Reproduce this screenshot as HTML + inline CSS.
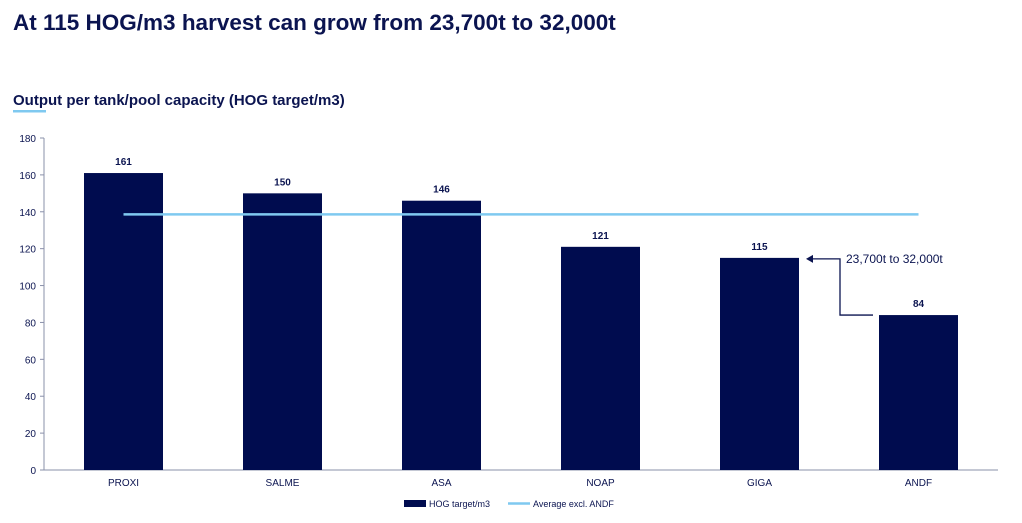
<!DOCTYPE html>
<html><head><meta charset="utf-8"><style>
body{margin:0;background:#fff;font-family:"Liberation Sans",Arial,sans-serif;}
svg text{font-family:"Liberation Sans",Arial,sans-serif;}
</style></head><body>
<svg id="c" width="1022" height="518" xmlns="http://www.w3.org/2000/svg">
<text x="13" y="30" font-size="22.5" font-weight="bold" fill="#0b1450">At 115 HOG/m3 harvest can grow from 23,700t to 32,000t</text>
<text x="13" y="105" font-size="15" font-weight="bold" fill="#0b1450">Output per tank/pool capacity (HOG target/m3)</text>
<rect x="13" y="110" width="33" height="2.5" fill="#7fc9f0"/>
<g id="plot"></g>
</svg>
<script>
const categories=["PROXI","SALME","ASA","NOAP","GIGA","ANDF"];
const values=[161,150,146,121,115,84];
const average=[138.6];
const yTicks=[0,20,40,60,80,100,120,140,160,180];
const NS="http://www.w3.org/2000/svg";
const g=document.getElementById('plot');
const x0=44,cw=159,bw=79,yBase=470,yTop=138,yMax=180;
const y=v=>yBase-(yBase-yTop)*v/yMax;
const xc=i=>x0+cw*i+cw/2;
function mk(t,a,txt){const e=document.createElementNS(NS,t);for(const k in a)e.setAttribute(k,a[k]);if(txt!==undefined)e.textContent=txt;g.appendChild(e);return e;}
const ax=mk('line',{x1:x0,y1:yTop,x2:x0,y2:yBase,stroke:'#8a90aa','stroke-width':1});


const xa=mk('line',{x1:x0,y1:yBase,x2:x0+cw*6,y2:yBase,stroke:'#8a90aa','stroke-width':1});


yTicks.forEach(t=>{
 mk('line',{x1:x0-4,y1:y(t),x2:x0,y2:y(t),stroke:'#8a90aa'});
 const l=mk('text',{x:x0-8,y:y(t)+4,'font-size':10,'text-anchor':'end',fill:'#0b1450'},t);
 
 
});
categories.forEach((c,i)=>{
 const b=mk('rect',{x:xc(i)-bw/2,y:y(values[i]),width:bw,height:yBase-y(values[i]),fill:'#000c4f'});
 
 
 const v=mk('text',{x:xc(i),y:y(values[i])-8,'font-size':10,'font-weight':'bold','text-anchor':'middle',fill:'#0b1450'},values[i]);
 
 
 const l=mk('text',{x:xc(i),y:yBase+16,'font-size':10,'text-anchor':'middle',fill:'#0b1450'},c);
 
 
});
const av=mk('line',{x1:xc(0),y1:y(average[0]),x2:xc(5),y2:y(average[0]),stroke:'#7fc9f0','stroke-width':2.5});


const ya=y(values[4])+1,yb=y(values[5]);
const an=mk('path',{d:`M${xc(4)+bw/2+13} ${ya} H840 V${yb} H873`,fill:'none',stroke:'#0b1450','stroke-width':1.3});


const ah=mk('path',{d:`M${xc(4)+bw/2+7} ${ya} l7 -4 v8 z`,fill:'#0b1450'});


const at=mk('text',{x:846,y:263,'font-size':12,fill:'#0b1450'},'23,700t to 32,000t');


const l1=mk('rect',{x:404,y:500,width:22,height:7,fill:'#000c4f'});


const t1=mk('text',{x:429,y:507,'font-size':9,fill:'#0b1450'},'HOG target/m3');


const l2=mk('line',{x1:508,y1:503.5,x2:530,y2:503.5,stroke:'#7fc9f0','stroke-width':2.5});


const t2=mk('text',{x:533,y:507,'font-size':9,fill:'#0b1450'},'Average excl. ANDF');


</script>
</body></html>
